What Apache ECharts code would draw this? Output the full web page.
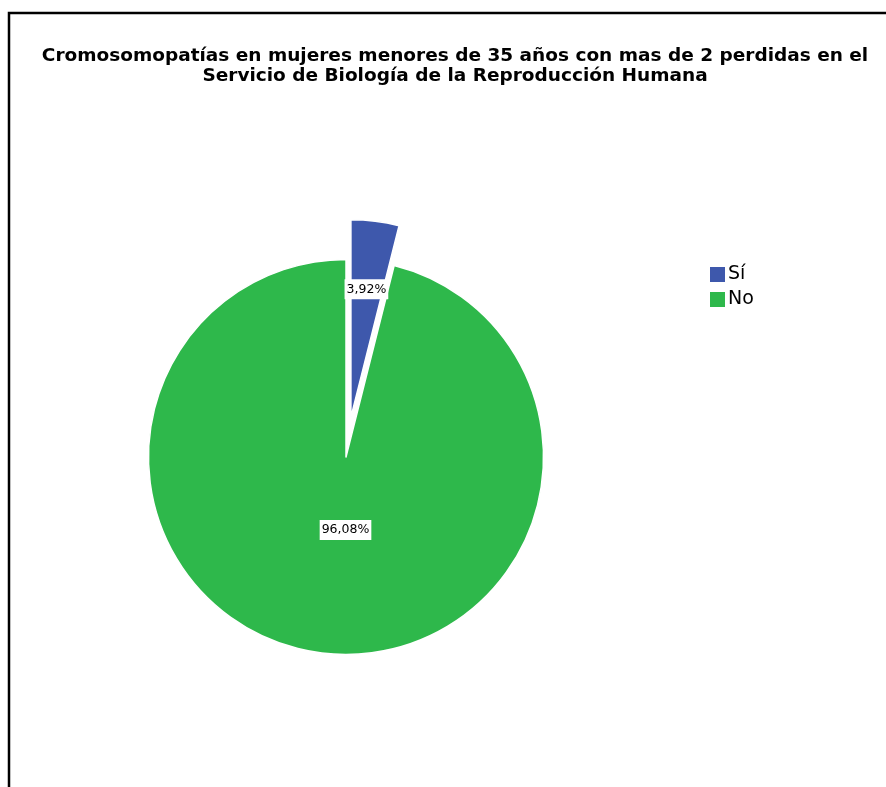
<!DOCTYPE html>
<html>
<head>
<meta charset="utf-8">
<script src="https://cdn.jsdelivr.net/npm/echarts@6/dist/echarts.min.js"></script>
<style>
  html, body { margin: 0; padding: 0; background: #ffffff; }
  #chart { width: 886px; height: 787px; }
</style>
</head>
<body>
<div id="chart"></div>
<script>
// Categories and their percentages
const categories = ['Sí', 'No'];
const percentages = [3.92, 96.08];
const sliceColors = ['#3e58ac', '#2eb84b'];
// Slices pulled out of the pie
const explodedSlices = [true, false];
// Label nudges relative to the default inside position
const labelNudges = [[3, -27], [12, -28]];

const titleLines = [
  'Cromosomopatías en mujeres menores de 35 años con mas de 2 perdidas en el',
  'Servicio de Biología de la Reproducción Humana'
];

const chart = echarts.init(document.getElementById('chart'), null, { renderer: 'canvas' });

const pieData = categories.map((name, i) => ({
  name: name,
  value: percentages[i],
  selected: explodedSlices[i],
  itemStyle: { color: sliceColors[i] }
}));

chart.setOption({
  backgroundColor: '#ffffff',
  animation: false,
  graphic: [{
    type: 'rect',
    shape: { x: 9, y: 13, width: 900, height: 800 },
    style: { fill: 'none', stroke: '#000000', lineWidth: 2.5 },
    silent: true
  }],
  title: {
    text: titleLines.join('\n'),
    left: 450,
    textAlign: 'center',
    top: 41,
    textStyle: {
      fontFamily: 'DejaVu Sans',
      fontWeight: 'bold',
      fontSize: 18.5,
      lineHeight: 20,
      color: '#000000'
    }
  },
  legend: {
    orient: 'vertical',
    left: 703,
    top: 260,
    itemWidth: 17,
    itemHeight: 17,
    itemGap: 6,
    icon: 'rect',
    selectedMode: false,
    textStyle: {
      fontFamily: 'DejaVu Sans',
      fontSize: 19,
      lineHeight: 17,
      color: '#000000',
      padding: [0, 0, 0, -3]
    },
    data: categories
  },
  series: [{
    type: 'pie',
    center: [346, 457],
    radius: 197.5,
    startAngle: 90,
    clockwise: true,
    selectedMode: 'multiple',
    selectedOffset: 40,
    avoidLabelOverlap: false,
    emphasis: { disabled: true },
    itemStyle: { borderColor: '#ffffff', borderWidth: 1.5 },
    label: {
      show: true,
      position: 'inside',
      formatter: p => p.value.toFixed(2).replace('.', ',') + '%',
      fontFamily: 'DejaVu Sans',
      fontSize: 12.5,
      color: '#000000',
      backgroundColor: '#ffffff',
      padding: [4, 2, 3, 2]
    },
    labelLayout: p => ({ dx: labelNudges[p.dataIndex][0], dy: labelNudges[p.dataIndex][1] }),
    labelLine: { show: false },
    data: pieData
  }]
});
</script>
</body>
</html>
